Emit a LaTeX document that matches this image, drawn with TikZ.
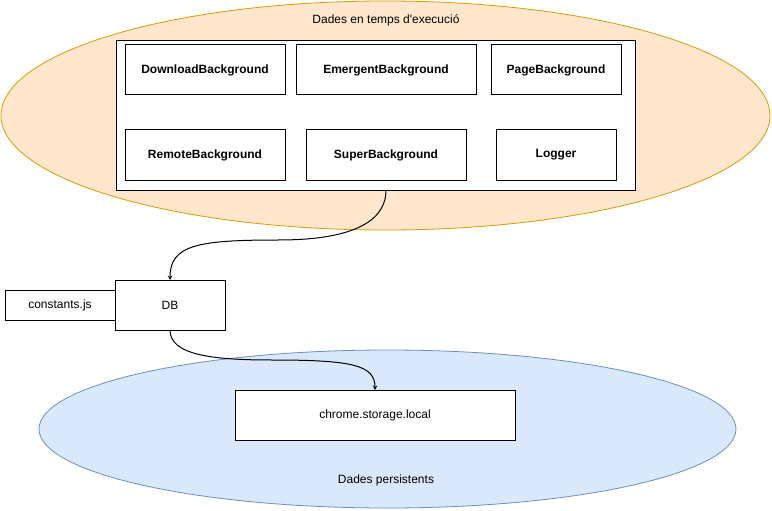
\documentclass[tikz,border=0pt]{standalone}
\usepackage{fontspec}
\setmainfont{Liberation Sans}
\usetikzlibrary{shapes.geometric}
\definecolor{runfill}{HTML}{FFE6CC}
\definecolor{rundraw}{HTML}{D79B00}
\definecolor{persfill}{HTML}{DAE8FC}
\definecolor{persdraw}{HTML}{6C8EBF}
\tikzset{
	area/.style={ellipse,draw,line width=.8pt,inner sep=0,outer sep=0},
	cls/.style={draw,fill=white,line width=1pt,inner sep=0,outer sep=0,minimum height=50,font=\fontsize{12}{14}\selectfont\bfseries},
	plain/.style={draw,fill=white,line width=1pt,inner sep=0,outer sep=0,minimum height=50,font=\fontsize{12}{14}\selectfont},
	flow/.style={->,>=stealth,line width=1pt}
}
\begin{document}
\begin{tikzpicture}[x=1pt,y=-1pt]
		\useasboundingbox (0,0) rectangle (772,511);
		% runtime data
		\node [area,draw=rundraw,fill=runfill,minimum width=769,minimum height=229] (runtimeArea) at (385.5,115.5) {};
		\node [font=\fontsize{12}{14}\selectfont] (runtimeLabel) at (386,20) {Dades en temps d\textquotesingle execució};
		\node [plain,minimum width=519,minimum height=149] (runtime) at (375.5,115.5) {};
		\node [cls,minimum width=160] (download) at (205,70) {DownloadBackground};
		\node [cls,minimum width=180] (emergent) at (386,70) {EmergentBackground};
		\node [cls,minimum width=130] (page) at (556,70) {PageBackground};
		\node [cls,minimum width=160] (remote) at (205,155) {RemoteBackground};
		\node [cls,minimum width=160] (super) at (386,155) {SuperBackground};
		\node [cls,minimum width=120] (logger) at (556,155) {Logger};
		% persistent data
		\node [area,draw=persdraw,fill=persfill,minimum width=697,minimum height=158] (persArea) at (387.5,429) {};
		\node [plain,minimum width=280] (chrome) at (375,415) {chrome.storage.local};
		\node [font=\fontsize{12}{14}\selectfont] (persLabel) at (386,480) {Dades persistents};
		% db
		\node [plain,minimum width=110,minimum height=30] (constants) at (60,305) {constants.js};
		\node [plain,minimum width=110] (db) at (170,305) {DB};
		\coordinate (runOut) at (super.south |- runtime.south);
		\draw [flow] (runOut) .. controls +(0,45) and +(40,0) .. (278,240) .. controls +(-80,0) and +(0,-35) .. (db.north);
		\draw [flow] (db.south) .. controls +(0,25) and +(-60,0) .. (272,360) .. controls +(80,0) and +(0,-25) .. (chrome.north);
		\end{tikzpicture}
\end{document}
